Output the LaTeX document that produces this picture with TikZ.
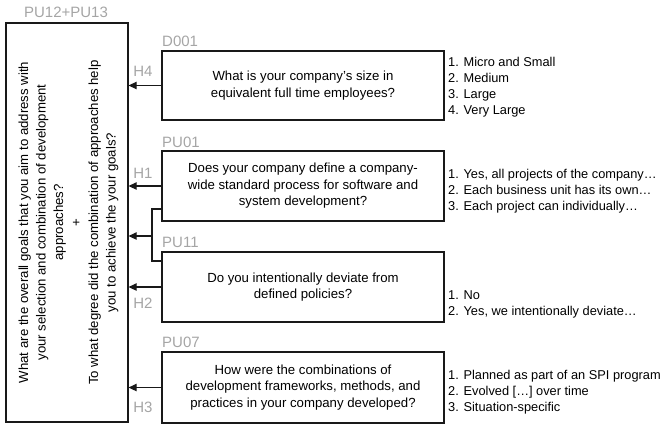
\documentclass[tikz,border=0pt]{standalone}
\usepackage{fontspec}
\setmainfont{Liberation Sans}
\usetikzlibrary{arrows.meta}
\definecolor{lbl}{RGB}{165,165,165}
\definecolor{ln}{RGB}{25,25,25}
\begin{document}
\begin{tikzpicture}[x=1pt,y=-1pt,
  qbox/.style={draw=ln,line width=1.3pt,rectangle,inner sep=0pt,minimum width=282pt,minimum height=69pt,align=center,font=\fontsize{13.2}{16.5}\selectfont},
  ans/.style={anchor=west,inner sep=0pt,align=left,font=\fontsize{12.8}{16}\selectfont},
  glabel/.style={text=lbl,inner sep=0pt,font=\fontsize{15}{18}\selectfont},
  arr/.style={draw=ln,line width=1.3pt,-{Triangle[length=8pt,width=7.5pt]}},
  conn/.style={draw=ln,line width=1.3pt}]
\useasboundingbox (0,0) rectangle (663,428);
% left box
\node[draw=ln,line width=1.3pt,rectangle,inner sep=0pt,minimum width=122pt,minimum height=399pt] (goal) at (67,222.5) {};
\node[rotate=90,align=center,inner sep=0pt,font=\fontsize{13.2}{17.5}\selectfont] (goaltxt) at (68.5,222.5) {What are the overall goals that you aim to address with\\your selection and combination of development\\approaches?\\+\\To what degree did the combination of approaches help\\you to achieve the your goals?};
\node[glabel] (lgoal) at (66,12) {PU12+PU13};
% question boxes
\node[qbox] (d001) at (303,85.5) {What is your company’s size in\\equivalent full time employees?};
\node[qbox,minimum height=70pt] (pu01) at (303,186) {Does your company define a company-\\wide standard process for software and\\system development?};
\node[qbox,minimum height=70pt] (pu11) at (303,287) {Do you intentionally deviate from\\defined policies?};
\node[qbox,minimum height=71pt] (pu07) at (303,387.5) {How were the combinations of\\development frameworks, methods, and\\practices in your company developed?};
% ids
\node[glabel,anchor=west] (ld001) at (162,41) {D001};
\node[glabel,anchor=west] (lpu01) at (162,142) {PU01};
\node[glabel,anchor=west] (lpu11) at (162,242) {PU11};
\node[glabel,anchor=west] (lpu07) at (162,342) {PU07};
% hypotheses
\node[glabel] (h4) at (143,71) {H4};
\node[glabel] (h1) at (143,173) {H1};
\node[glabel] (h2) at (143,303) {H2};
\node[glabel] (h3) at (143,407) {H3};
% answers
\node[ans] (a001) at (448,87) {1. Micro and Small\\2. Medium\\3. Large\\4. Very Large};
\node[ans] (a01) at (448,191) {1. Yes, all projects of the company…\\2. Each business unit has its own…\\3. Each project can individually…};
\node[ans] (a11) at (448,304.5) {1. No\\2. Yes, we intentionally deviate…};
\node[ans] (a07) at (448,392) {1. Planned as part of an SPI program\\2. Evolved […] over time\\3. Situation-specific};
% arrows
\draw[arr] (d001.west) -- (d001.west -| goal.east);
\draw[arr] (pu01.west) -- (pu01.west -| goal.east);
\draw[arr] (pu11.west) -- (pu11.west -| goal.east);
\draw[arr] (pu07.west) -- (pu07.west -| goal.east);
% bracket
\coordinate (bt) at (162,209);
\coordinate (bb) at (162,261);
\coordinate (bm) at (152,236);
\draw[conn] (bt) -| (bm) |- (bb);
\draw[arr] (bm) -- (bm -| goal.east);
\end{tikzpicture}
\end{document}
